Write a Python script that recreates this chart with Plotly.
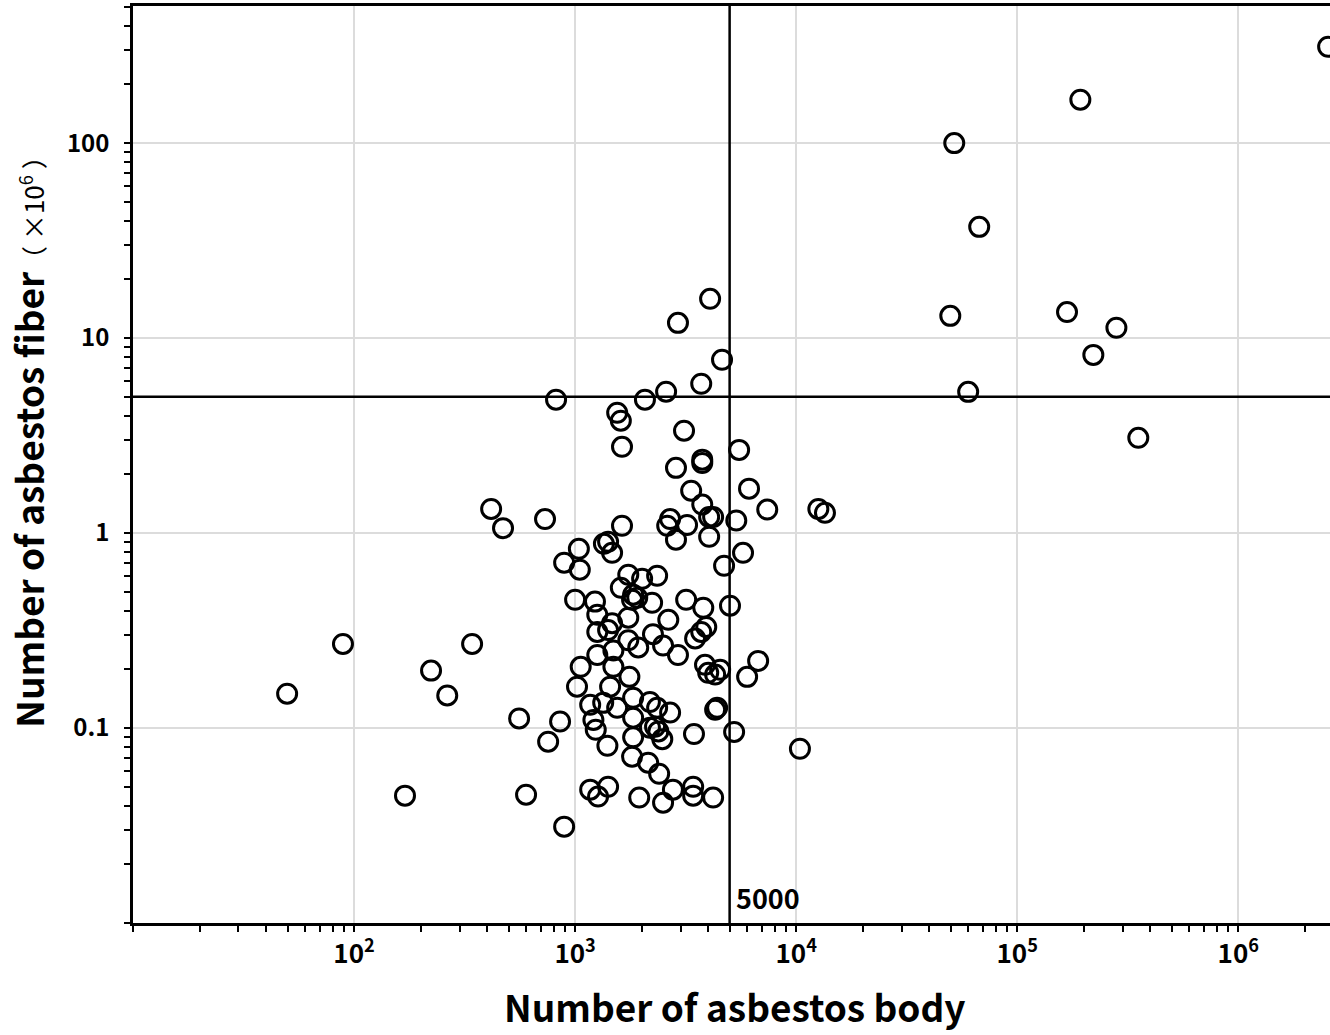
import numpy as np
import plotly.graph_objects as go

# Number of asbestos body (x) and number of asbestos fiber (x10^6) (y)
body_high = [2.55e6, 1.93e5, 5.19e4, 6.73e4, 4.98e4, 1.68e5, 2.81e5, 2.21e5, 6.0e4, 3.53e5, 1.26e4, 1.35e4, 1.04e4]
fiber_high = [312, 167, 100, 37.2, 13.0, 13.6, 11.3, 8.2, 5.3, 3.08, 1.33, 1.27, 0.0783]

body_upper = [4080, 2920, 4620, 3720, 2580, 2070, 820, 1550, 1610, 1630, 3110, 5520, 3760, 3760, 2860,
              3350, 6120, 3760, 7400, 417, 472, 731, 1630, 2690, 2610, 3210, 4040, 4210, 5360, 2860,
              4040, 1040, 1350, 1410, 1470, 892, 1050, 5750, 4720]
fiber_upper = [15.9, 11.97, 7.74, 5.83, 5.31, 4.83, 4.83, 4.14, 3.77, 2.77, 3.35, 2.67, 2.38, 2.29, 2.16,
               1.65, 1.69, 1.40, 1.32, 1.33, 1.06, 1.18, 1.09, 1.18, 1.09, 1.10, 1.21, 1.21, 1.16, 0.925,
               0.957, 0.830, 0.881, 0.902, 0.792, 0.705, 0.649, 0.792, 0.680]

body_mid = [1740, 2010, 2350, 1610, 1830, 1910, 1810, 2230, 1000, 1230, 3180, 3800, 5020, 1260, 1740,
            2640, 1470, 1410, 1260, 2250, 3920, 3720, 3490, 1740, 1930, 2500, 2920, 1260, 1490, 1060,
            1490, 3870, 4530, 4300, 4000, 6730, 6000, 1020, 1760, 1440, 89.1, 342, 223, 264, 49.8]
fiber_mid = [0.611, 0.583, 0.604, 0.524, 0.483, 0.466, 0.455, 0.439, 0.455, 0.445, 0.455, 0.414, 0.424, 0.381, 0.368,
             0.359, 0.345, 0.318, 0.311, 0.303, 0.330, 0.311, 0.288, 0.282, 0.259, 0.265, 0.237, 0.237, 0.250, 0.206,
             0.206, 0.211, 0.199, 0.188, 0.192, 0.221, 0.183, 0.163, 0.183, 0.163, 0.270, 0.270, 0.197, 0.147, 0.150]

body_low = [558, 855, 755, 170, 600, 892, 1170, 1340, 1550, 1830, 2180, 2350, 2690, 4390, 4300,
            1210, 1240, 1830, 2180, 2300, 2380, 2480, 1830, 1400, 3450, 5240, 1810, 2140, 2400,
            1170, 1270, 1410, 1950, 2500, 2770, 3420, 3420, 4210]
fiber_low = [0.112, 0.108, 0.0851, 0.0450, 0.0455, 0.0312, 0.1315, 0.1346, 0.127, 0.143, 0.136, 0.127, 0.120, 0.127, 0.124,
             0.110, 0.098, 0.113, 0.1004, 0.1016, 0.0961, 0.0877, 0.0896, 0.0811, 0.0932, 0.0955, 0.0713, 0.0664, 0.0583,
             0.0483, 0.0445, 0.050, 0.0440, 0.0414, 0.0483, 0.050, 0.045, 0.0440]

body_threshold = 5000
fiber_threshold = 5

x_major = [1e2, 1e3, 1e4, 1e5, 1e6]
x_major_text = ["10<sup>2</sup>", "10<sup>3</sup>", "10<sup>4</sup>", "10<sup>5</sup>", "10<sup>6</sup>"]
y_major = [0.1, 1, 10, 100]
y_major_text = ["0.1", "1", "10", "100"]

x_min, x_max = 10, 2.6e6
y_min, y_max = 0.01, 505

body = body_high + body_upper + body_mid + body_low
fiber = fiber_high + fiber_upper + fiber_mid + fiber_low

x_minor = [x_min] + [m * 10 ** e for e in range(1, 7) for m in range(2, 10) if m * 10 ** e <= x_max]
y_minor = [y_min] + [m * 10.0 ** e for e in range(-2, 3) for m in range(2, 10) if m * 10.0 ** e <= y_max]

FONT = "Noto Sans CJK JP"

fig = go.Figure()
fig.add_trace(go.Scatter(x=[body_threshold, body_threshold], y=[y_min, y_max], mode="lines",
                         line=dict(color="black", width=2.5), hoverinfo="skip", showlegend=False))
fig.add_trace(go.Scatter(x=[x_min, x_max], y=[fiber_threshold, fiber_threshold], mode="lines",
                         line=dict(color="black", width=2.5), hoverinfo="skip", showlegend=False))
fig.add_trace(go.Scatter(x=body, y=fiber, mode="markers",
                         marker=dict(symbol="circle-open", size=19, color="black", line=dict(width=3)),
                         showlegend=False))

fig.update_layout(
    width=1330, height=1035,
    margin=dict(l=133, r=0, t=6, b=112),
    paper_bgcolor="white", plot_bgcolor="white",
    font=dict(family=FONT, color="black"),
    showlegend=False,
)
fig.update_xaxes(
    type="log", range=[np.log10(x_min), np.log10(x_max)],
    tickvals=x_major, ticktext=x_major_text,
    ticks="outside", ticklen=6, tickwidth=2, tickcolor="black",
    tickfont=dict(size=26, family=FONT, color="black", weight="bold"),
    showline=True, linecolor="black", linewidth=2.5, mirror=True,
    showgrid=True, gridcolor="#dcdcdc", gridwidth=1.5, zeroline=False,
    minor=dict(tickvals=x_minor, ticks="outside", ticklen=6, tickwidth=2, tickcolor="black", showgrid=False),
)
fig.update_yaxes(
    type="log", range=[np.log10(y_min), np.log10(y_max)],
    tickvals=y_major, ticktext=y_major_text,
    ticks="outside", ticklen=6, tickwidth=2, tickcolor="black",
    tickfont=dict(size=24, family=FONT, color="black", weight="bold"),
    ticklabelstandoff=10,
    showline=True, linecolor="black", linewidth=2.5, mirror=False,
    showgrid=True, gridcolor="#dcdcdc", gridwidth=1.5, zeroline=False,
    minor=dict(tickvals=y_minor, ticks="outside", ticklen=6, tickwidth=2, tickcolor="black", showgrid=False),
)

fig.add_annotation(x=np.log10(body_threshold), y=0, xref="x", yref="paper",
                   text="5000", showarrow=False, xanchor="left", yanchor="bottom",
                   xshift=4, yshift=4, font=dict(size=27, family=FONT, color="black", weight="bold"))
fig.add_annotation(x=0.503, y=-0.0905, xref="paper", yref="paper",
                   text="<b>Number of asbestos body</b>", showarrow=False,
                   xanchor="center", yanchor="middle", font=dict(size=37, family=FONT, color="black"))
fig.add_annotation(x=-0.088, y=0.532, xref="paper", yref="paper", textangle=-90,
                   text="<b>Number of asbestos fiber</b><span style='font-size:26px'>（ ×10<sup>6</sup> ）</span>",
                   showarrow=False, xanchor="center", yanchor="middle",
                   font=dict(size=37, family=FONT, color="black"))

fig.write_html("out.html")
